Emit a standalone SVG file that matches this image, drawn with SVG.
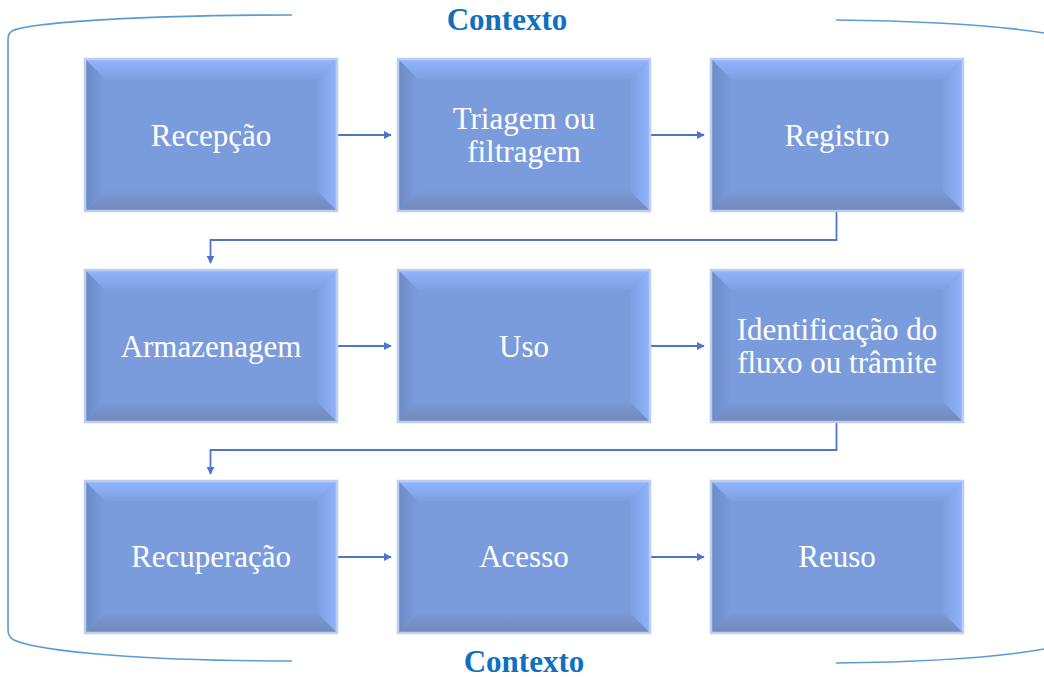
<svg xmlns="http://www.w3.org/2000/svg" xmlns:xlink="http://www.w3.org/1999/xlink" width="1044" height="677" viewBox="0 0 1044 677">
  <style>
    .label { font-family: "Liberation Serif", "Times New Roman", serif; font-size: 31px; fill: #ffffff; text-anchor: middle; }
    .ctx { font-family: "Liberation Serif", "Times New Roman", serif; font-size: 31px; font-weight: bold; fill: #0f6fc0; text-anchor: middle; }
    .bracket { fill: none; stroke: #5b9bd5; stroke-width: 1.6; }
    .conn { fill: none; stroke: #4f74cc; stroke-width: 1.8; }
  </style>
  <defs>
    <linearGradient id="gTop" x1="0" y1="0" x2="0" y2="1">
      <stop offset="0" stop-color="#92b5ff"/>
      <stop offset="1" stop-color="#7e9fe0"/>
    </linearGradient>
    <linearGradient id="gRight" x1="0" y1="0" x2="1" y2="0">
      <stop offset="0" stop-color="#7d9edf"/>
      <stop offset="1" stop-color="#90b3fc"/>
    </linearGradient>
    <linearGradient id="gBottom" x1="0" y1="0" x2="0" y2="1">
      <stop offset="0" stop-color="#7a99d6"/>
      <stop offset="1" stop-color="#7288ba"/>
    </linearGradient>
    <linearGradient id="gLeft" x1="0" y1="0" x2="1" y2="0">
      <stop offset="0" stop-color="#6c8ac6"/>
      <stop offset="1" stop-color="#7b9bdb"/>
    </linearGradient>
    <!-- bevelled process box, 252 x 152 -->
    <g id="box">
      <rect x="0" y="0" width="252" height="152" fill="#7b9cdc"/>
      <polygon points="0,0 252,0 232,20 20,20" fill="url(#gTop)"/>
      <polygon points="252,0 252,152 232,132 232,20" fill="url(#gRight)"/>
      <polygon points="0,152 252,152 232,132 20,132" fill="url(#gBottom)"/>
      <polygon points="0,0 0,152 20,132 20,20" fill="url(#gLeft)"/>
      <rect x="0" y="0" width="252" height="152" fill="none" stroke="#bccdef" stroke-width="2.5"/>
    </g>
    <marker id="arrow" viewBox="0 0 10 10" refX="9" refY="5" markerWidth="4.5" markerHeight="4.5" orient="auto" markerUnits="strokeWidth">
      <path d="M0,0 L10,5 L0,10 z" fill="#4f74cc"/>
    </marker>
  </defs>

  <!-- context bracket -->
  <g id="context">
    <path class="bracket" d="M292,15 C150,15 30,22 12,31 Q8,33 8,40 L8,630 Q8,637 14,640 C40,652 150,661 292,661"/>
    <path class="bracket" d="M836,20 C930,21 1000,26 1044,33"/>
    <path class="bracket" d="M836,663 C930,662 1000,657 1044,649"/>
    <text class="ctx" x="507" y="30">Contexto</text>
    <text class="ctx" x="524" y="672">Contexto</text>
  </g>

  <!-- connectors -->
  <g id="connectors">
    <line class="conn" x1="338" y1="135" x2="391" y2="135" marker-end="url(#arrow)"/>
    <line class="conn" x1="651" y1="135" x2="704" y2="135" marker-end="url(#arrow)"/>
    <polyline class="conn" points="836.5,211 836.5,240 210.5,240 210.5,263" marker-end="url(#arrow)"/>
    <line class="conn" x1="338" y1="346" x2="391" y2="346" marker-end="url(#arrow)"/>
    <line class="conn" x1="651" y1="346" x2="704" y2="346" marker-end="url(#arrow)"/>
    <polyline class="conn" points="836.5,422 836.5,450 210.5,450 210.5,474" marker-end="url(#arrow)"/>
    <line class="conn" x1="338" y1="557" x2="391" y2="557" marker-end="url(#arrow)"/>
    <line class="conn" x1="651" y1="557" x2="704" y2="557" marker-end="url(#arrow)"/>
  </g>

  <!-- process steps -->
  <g id="recepcao">
    <use xlink:href="#box" x="85" y="59"/>
    <text class="label" x="211" y="146">Recepção</text>
  </g>
  <g id="triagem">
    <use xlink:href="#box" x="398" y="59"/>
    <text class="label" x="524" y="129">Triagem ou</text>
    <text class="label" x="524" y="162">filtragem</text>
  </g>
  <g id="registro">
    <use xlink:href="#box" x="711" y="59"/>
    <text class="label" x="837" y="146">Registro</text>
  </g>
  <g id="armazenagem">
    <use xlink:href="#box" x="85" y="270"/>
    <text class="label" x="211" y="357">Armazenagem</text>
  </g>
  <g id="uso">
    <use xlink:href="#box" x="398" y="270"/>
    <text class="label" x="524" y="357">Uso</text>
  </g>
  <g id="identificacao">
    <use xlink:href="#box" x="711" y="270"/>
    <text class="label" x="837" y="340">Identificação do</text>
    <text class="label" x="837" y="373">fluxo ou trâmite</text>
  </g>
  <g id="recuperacao">
    <use xlink:href="#box" x="85" y="481"/>
    <text class="label" x="211" y="567">Recuperação</text>
  </g>
  <g id="acesso">
    <use xlink:href="#box" x="398" y="481"/>
    <text class="label" x="524" y="567">Acesso</text>
  </g>
  <g id="reuso">
    <use xlink:href="#box" x="711" y="481"/>
    <text class="label" x="837" y="567">Reuso</text>
  </g>
</svg>
